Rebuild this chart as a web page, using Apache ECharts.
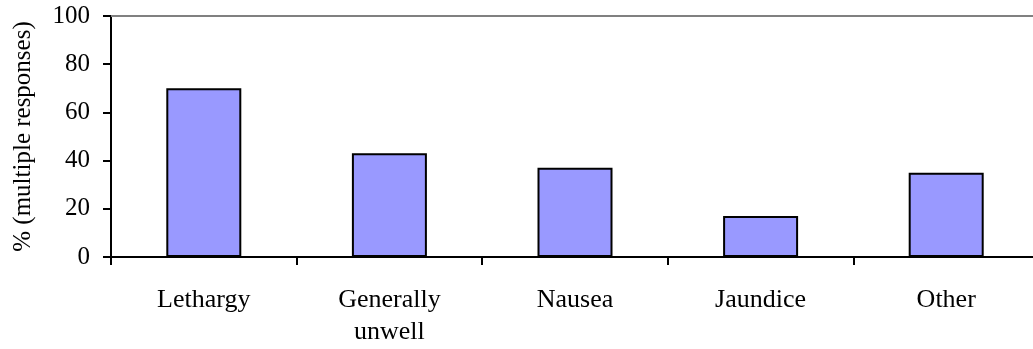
<!DOCTYPE html>
<html>
<head>
<meta charset="utf-8">
<style>
  html, body { margin: 0; padding: 0; background: #fff; }
  #chart { width: 1033px; height: 349px; }
</style>
<script src="https://cdn.jsdelivr.net/npm/echarts@6/dist/echarts.min.js"></script>
</head>
<body>
<div id="chart"></div>
<script>
// Reported symptoms, percentage of respondents (multiple responses allowed)
const categories = ['Lethargy', 'Generally\nunwell', 'Nausea', 'Jaundice', 'Other'];
const percentages = [70, 43, 37, 17, 35];
const yTicks = { min: 0, max: 100, interval: 20 };

const FONT = '"Liberation Serif", "Times New Roman", serif';

const chart = echarts.init(document.getElementById('chart'));
chart.setOption({
  animation: false,
  grid: { left: 111, right: -6, top: 16, bottom: 92, containLabel: false, outerBoundsMode: 'none' },
  xAxis: [
    {
      type: 'category',
      data: categories,
      position: 'bottom',
      axisLine: { lineStyle: { color: '#000', width: 2 } },
      axisTick: { show: true, length: 8, alignWithLabel: false, lineStyle: { color: '#000', width: 2 } },
      axisLabel: { color: '#000', fontFamily: FONT, fontSize: 26, margin: 27, lineHeight: 32 }
    },
    {
      type: 'category',
      data: categories,
      position: 'top',
      axisLine: { lineStyle: { color: '#808080', width: 2 } },
      axisTick: { show: false },
      axisLabel: { show: false }
    }
  ],
  yAxis: {
    type: 'value',
    min: yTicks.min,
    max: yTicks.max,
    interval: yTicks.interval,
    name: '% (multiple responses)',
    nameLocation: 'middle',
    nameRotate: 90,
    nameGap: 75,
    nameTextStyle: { color: '#000', fontFamily: FONT, fontSize: 25 },
    axisLine: { show: true, lineStyle: { color: '#000', width: 2 } },
    axisTick: { show: true, length: 8, lineStyle: { color: '#000', width: 2 } },
    axisLabel: { color: '#000', fontFamily: FONT, fontSize: 25, margin: 21 },
    splitLine: { show: false }
  },
  series: [{
    type: 'bar',
    data: percentages,
    barWidth: 75,
    itemStyle: { color: '#9999FF', borderColor: '#000', borderWidth: 2 }
  }]
});
</script>
</body>
</html>
